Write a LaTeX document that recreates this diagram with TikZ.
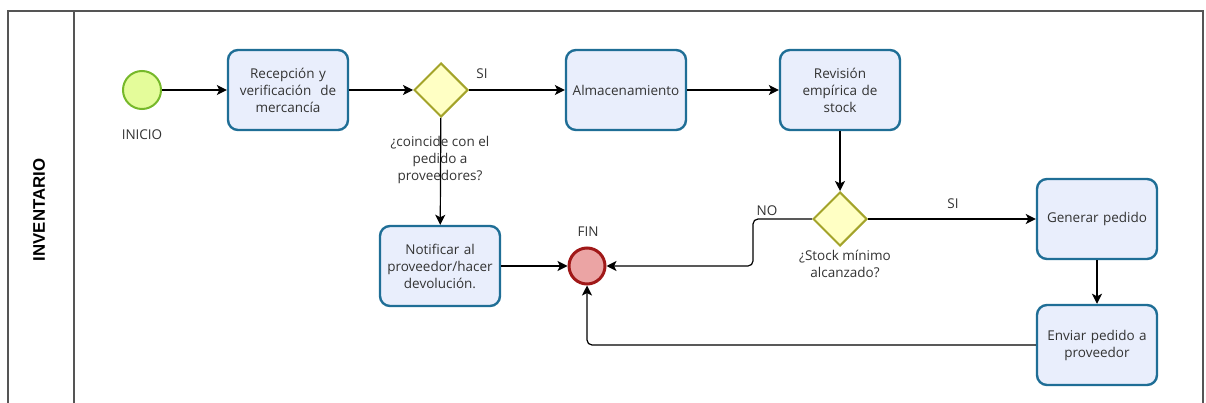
\documentclass[tikz,border=0pt]{standalone}
\usepackage{fontspec}
\setmainfont{Open Sans}
\newfontfamily\lanefont{Liberation Sans}
\usetikzlibrary{shapes.geometric,arrows.meta}
\definecolor{txt}{HTML}{333333}
\definecolor{taskfill}{HTML}{E9EEFC}
\definecolor{taskdraw}{HTML}{1F6E96}
\definecolor{gwfill}{HTML}{FFFFC4}
\definecolor{gwdraw}{HTML}{A3A32A}
\definecolor{stfill}{HTML}{E4FC9A}
\definecolor{stdraw}{HTML}{76B82A}
\definecolor{endfill}{HTML}{EBA4A4}
\definecolor{enddraw}{HTML}{A01818}
\definecolor{lane}{HTML}{555555}
\tikzset{
  task/.style={draw=taskdraw, fill=taskfill, line width=2.4pt, rounded corners=10pt,
    minimum width=120pt, minimum height=80pt, inner sep=2pt, align=center,
    text=txt, font=\fontsize{13.5}{17}\selectfont, text width=116pt},
  gw/.style={draw=gwdraw, fill=gwfill, diamond, line width=2pt, minimum width=54pt,
    minimum height=54pt, inner sep=0pt, aspect=1},
  lbl/.style={text=txt, font=\fontsize{13.5}{17}\selectfont, align=center, inner sep=0pt},
  arr/.style={draw=black, line width=1.2pt, -{Stealth[length=10pt,width=10pt,inset=2.5pt]}},
  arrb/.style={draw=black, line width=1.8pt, -{Stealth[length=10pt,width=10pt,inset=2.5pt]}}
}
\begin{document}
\begin{tikzpicture}[x=1pt,y=-1pt]
\useasboundingbox (0,0) rectangle (1206,403);
% lane
\draw[lane, line width=1.2pt] (8,403) -- (8,11) -- (1203,11) -- (1203,403);
\draw[lane, line width=1.2pt] (74,11) -- (74,403);
\node[rotate=90, font=\lanefont\bfseries\fontsize{16.8}{18}\selectfont, text=black] (lanelbl) at (39,210) {INVENTARIO};
% nodes
\node[circle, draw=stdraw, fill=stfill, line width=2pt, minimum size=38pt, inner sep=0pt] (ini) at (142,90) {};
\node[lbl] (inilbl) at (142,135) {INICIO};
\node[task] (rec) at (288,90) {Recepción y\\verificación~ de\\mercancía};
\node[gw] (d1) at (441,90) {};
\node[lbl] (si1) at (482,74) {SI};
\node[lbl] (d1lbl) at (440,160) {¿coincide con el\\pedido a\\proveedores?};
\node[task] (alm) at (626,90) {Almacenamiento};
\node[task] (rev) at (840,90) {Revisión\\empírica de\\stock};
\node[gw] (d2) at (840,219) {};
\node[lbl] (si2) at (953,204) {SI};
\node[lbl] (no2) at (767,211) {NO};
\node[lbl] (d2lbl) at (845,264) {¿Stock mínimo\\alcanzado?};
\node[task] (gen) at (1097,219) {Generar pedido};
\node[task] (env) at (1097,345) {Enviar pedido a\\proveedor};
\node[task] (not) at (440,266) {Notificar al\\proveedor/hacer\\devolución.};
\node[circle, draw=enddraw, fill=endfill, line width=3pt, minimum size=36pt, inner sep=0pt] (fin) at (587,266) {};
\node[lbl] (finlbl) at (588,232) {FIN};
% connectors
\draw[arr] (ini) -- (rec);
\draw[arr] (rec) -- (d1);
\draw[arr] (d1) -- (alm);
\draw[arr] (alm) -- (rev);
\draw[arrb] (rev) -- (d2);
\draw[arrb] (d2) -- (gen);
\draw[arrb] (gen) -- (env);
\draw[arr] (d1) -- (not);
\draw[arr] (not) -- (fin);
\draw[arr, rounded corners=5pt] (d2.west) -- ++(-59,0) |- (fin.east);
\draw[arr, rounded corners=5pt] (env.west) -| (fin.south);
\end{tikzpicture}
\end{document}
